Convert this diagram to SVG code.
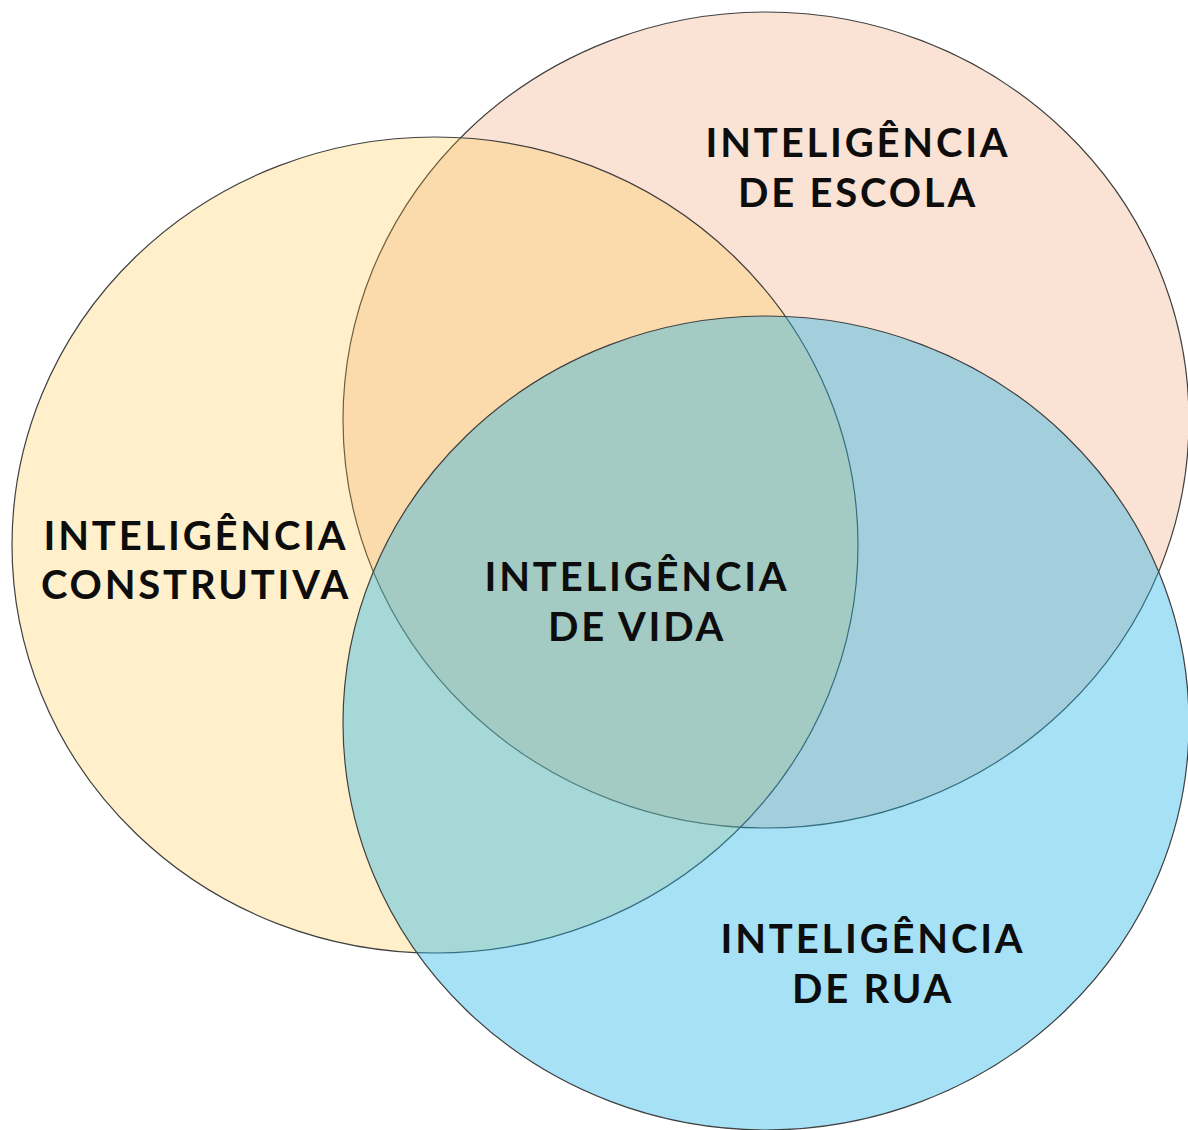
<svg xmlns="http://www.w3.org/2000/svg" width="1188" height="1130" viewBox="0 0 1188 1130">
<style>
.c{stroke:#404040;stroke-width:1.2}
.t{font-family:Lato,"Open Sans","Liberation Sans",sans-serif;font-weight:bold;font-size:40px;letter-spacing:2.8px;fill:#0d0d0d;text-anchor:middle}
</style>
<rect width="1188" height="1130" fill="#ffffff"/>
<g id="escola">
<ellipse class="c" cx="766" cy="420" rx="423" ry="408" fill="#FAE2D4"/>
</g>
<g id="construtiva">
<ellipse class="c" cx="435" cy="545" rx="423" ry="408" fill="rgb(255,195,47)" fill-opacity="0.25"/>
</g>
<g id="rua">
<ellipse class="c" cx="766" cy="723" rx="423" ry="407" fill="rgb(32,180,232)" fill-opacity="0.4"/>
</g>
<g id="labels">
<text class="t" x="858" y="157">INTELIGÊNCIA</text>
<text class="t" x="858" y="207">DE ESCOLA</text>
<text class="t" x="196" y="550">INTELIGÊNCIA</text>
<text class="t" x="196" y="599">CONSTRUTIVA</text>
<text class="t" x="637" y="591">INTELIGÊNCIA</text>
<text class="t" x="637" y="641">DE VIDA</text>
<text class="t" x="873" y="953">INTELIGÊNCIA</text>
<text class="t" x="873" y="1003">DE RUA</text>
</g>
</svg>
